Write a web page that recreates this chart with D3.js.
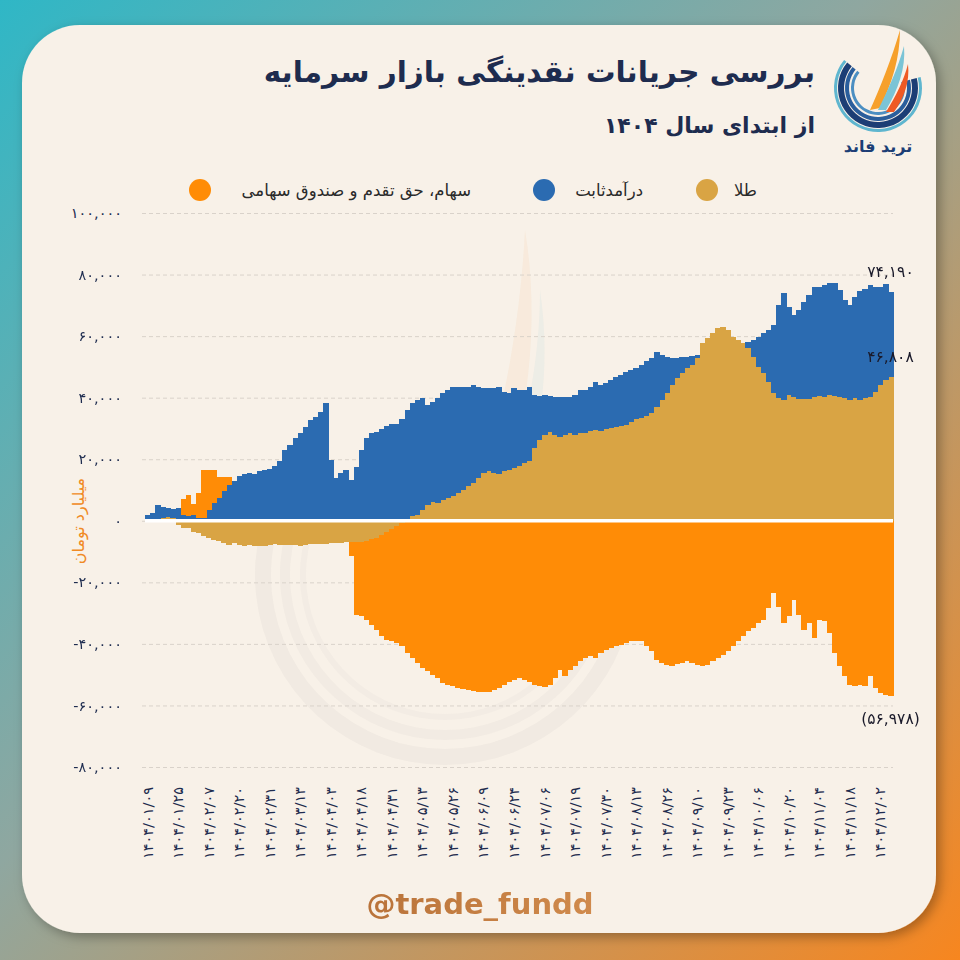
<!DOCTYPE html>
<meta charset="utf-8">
<style>
body { margin: 0; }
text { font-family: "DejaVu Sans", sans-serif; }
</style>
<body>
<script src="https://cdn.jsdelivr.net/npm/d3@7"></script>
<script>

var width = 960,
    height = 960;

// x tick labels, one every `tickEvery` points
var tickLabels = ["1404/01/09", "1404/01/25", "1404/02/07", "1404/02/20", "1404/02/31",
  "1404/03/13", "1404/04/03", "1404/04/18", "1404/04/31", "1404/05/13", "1404/05/26",
  "1404/06/09", "1404/06/24", "1404/07/06", "1404/07/19", "1404/07/30", "1404/08/13",
  "1404/08/26", "1404/09/10", "1404/09/23", "1404/10/06", "1404/10/20", "1404/11/04",
  "1404/11/18", "1404/12/02"];
var tickEvery = 6;

// cumulative flows, billion toman
var gold = [0, 0, 0, 800, 1200, 800, -1500,
  -2400, -2400, -3500, -4000, -5000, -5600, -6200, -6700, -7300, -7800,
  -7300, -7800, -8100, -7800, -8100, -8100, -8100, -8000, -7500, -7800,
  -7800, -7800, -8000, -8100, -7800, -7600, -7500, -7500, -7400, -7300,
  -7250, -7250, -7000, -7000, -7000, -7000, -6500, -6000, -5600, -4600,
  -3500, -2600, -1600, -800,
  500, 1410, 1950, 3500, 5200, 6000, 5730, 6820, 7360, 7900,
  8980, 10060, 11150, 12230, 13850, 15480, 16020, 15480, 15260, 16020,
  16560, 17100, 17640, 18720, 19260, 23500, 26300, 27920, 29000, 27920,
  27380, 27920, 28460, 27920, 28460, 28680, 29330, 29550, 29330, 29760,
  30090, 30630, 30900, 31170, 32250, 33010, 33500, 34000, 35000, 37120,
  39290, 41450, 44160, 46320, 47940, 49570, 50650, 52810, 57680, 59310,
  60930, 62550, 63100, 62010, 59850, 58770, 57680, 56060, 53350, 50110,
  47940, 45240, 41450, 39830, 39290, 40910, 40370, 39500, 39500, 39500,
  40150, 40580, 40370, 40910, 40580, 40370, 39830, 39290, 39830, 39290,
  39830, 40370, 41990, 44160, 45780, 46808];

var fixedIncome = [1950, 2500, 5000, 3600, 3000, 3000, 4000,
  1950, 1410, 1950, 870, 870, 3570, 5730, 7360, 9520, 11690,
  12770, 14390, 15260, 15480, 15260, 16020, 16560, 16880, 17640, 19260,
  23050, 24670, 26830, 28460, 30620, 32790, 33870, 35490, 38420, 19800,
  13850, 15480, 16560, 13300, 17500, 23050, 26830, 28460, 29000, 29760,
  30840, 31380, 31600, 33000,
  35540, 36790, 37340, 36330, 32460, 32740, 34100, 34630, 35170, 35500,
  34630, 33550, 32250, 31930, 29550, 27590, 27050, 27590, 28350, 25970,
  24890, 25970, 24890, 23810, 24350, 17410, 14280, 12990, 11580, 12450,
  12990, 12450, 11910, 12990, 14070, 13850, 14280, 15680, 14830, 14940,
  15690, 16170, 16500, 17320, 16780, 16560, 17150, 18000, 18000, 17860,
  14610, 11900, 8650, 6490, 5410, 3780, 2920, 1090, 0, 0,
  0, 0, 0, 0, 0, 0, 0, 2170, 5420, 9740,
  12990, 16770, 22190, 30170, 34630, 28590, 26510, 29000, 31700, 34000,
  35650, 35500, 36250, 36490, 36580, 34630, 31920, 30840, 33010, 35410,
  35370, 36250, 33810, 31920, 31120, 27382];

var equity = [0, 0, 0, 0, 0, 0, 0,
  5050, 7090, 3550, 8130, 15630, 12930, 10770, 6940, 4780, 2610,
  0, 0, 0, 0, 0, 0, 0, 0, 0, 0,
  0, 0, 0, 0, 0, 0, 0, 0, 0, 0,
  0, 0, 0, -4600, -23520, -24060, -25640, -27770, -29790, -32950,
  -35140, -36580, -38120, -40000,
  -42960, -44590, -46210, -47840, -48920, -50000, -51080, -52710, -53250, -53790,
  -54330, -54600, -54870, -55410, -55600, -55740, -55740, -55090, -54330, -53250,
  -52490, -51840, -51080, -51840, -52490, -53250, -53790, -54000, -53250, -51080,
  -48380, -50540, -48380, -47300, -45670, -44590, -44050, -44590, -42960, -41880,
  -41340, -40800, -40260, -39720, -39180, -39180, -39180, -40800, -42400, -45130,
  -46210, -46750, -47080, -46430, -46210, -45670, -46210, -46750, -47300, -46750,
  -45670, -44590, -43510, -42420, -40800, -39180, -37550, -35930, -34850, -33220,
  -32140, -28500, -23480, -28000, -33220, -31000, -25650, -30500, -35390, -33220,
  -38100, -32140, -32680, -36470, -42960, -47300, -50540, -53250, -53790, -53250,
  -53790, -50540, -54330, -55950, -56490, -56978];

var keys = ["gold", "fixedIncome", "equity"];
var names = { gold: "طلا", fixedIncome: "درآمدثابت", equity: "سهام، حق تقدم و صندوق سهامی" };
var colors = { gold: "#D9A444", fixedIncome: "#2B6BB1", equity: "#FF8C06" };
var yTicks = d3.range(-80000, 100001, 20000);

var fa = function(s) {
  return String(s).replace("−", "-")
    .replace(/[0-9]/g, function(d) { return "۰۱۲۳۴۵۶۷۸۹"[+d]; });
};
var fmt = d3.format(",");

var svg = d3.select("body").append("svg")
    .attr("width", width)
    .attr("height", height);

var defs = svg.append("defs");
var bg = defs.append("linearGradient").attr("id", "bg")
    .attr("x1", 0).attr("y1", 0).attr("x2", 1).attr("y2", 1);
bg.append("stop").attr("offset", "0%").attr("stop-color", "#2FB7C6");
bg.append("stop").attr("offset", "45%").attr("stop-color", "#8FA7A0");
bg.append("stop").attr("offset", "100%").attr("stop-color", "#F7861F");

var sh = defs.append("filter").attr("id", "shadow")
    .attr("x", "-5%").attr("y", "-5%").attr("width", "110%").attr("height", "110%");
sh.append("feDropShadow").attr("dx", 4).attr("dy", 4).attr("stdDeviation", 6)
    .attr("flood-color", "#000").attr("flood-opacity", 0.3);

var wm = defs.append("linearGradient").attr("id", "wm")
    .attr("x1", 0).attr("y1", 0).attr("x2", 1).attr("y2", 0);
wm.append("stop").attr("offset", "0%").attr("stop-color", "#B9733A");
wm.append("stop").attr("offset", "100%").attr("stop-color", "#D08A4C");

svg.append("rect")
    .attr("width", width).attr("height", height)
    .attr("fill", "url(#bg)");

svg.append("rect")
    .attr("x", 22).attr("y", 25)
    .attr("width", 914).attr("height", 908)
    .attr("rx", 58)
    .attr("fill", "#F8F1E8")
    .attr("filter", "url(#shadow)");

// faint background logo
var faint = svg.append("g").attr("opacity", 0.06);
[[190, 16, "#8a8a8a"], [165, 10, "#9a9a9a"], [145, 6, "#aaaaaa"]].forEach(function(a) {
  faint.append("path")
      .attr("transform", "translate(445,575)")
      .attr("d", d3.arc()({ innerRadius: a[0] - a[1], outerRadius: a[0], startAngle: Math.PI * 0.3, endAngle: Math.PI * 1.7 }))
      .attr("fill", a[2]);
});
faint.append("path")
    .attr("d", "M470,520 C500,430 520,330 525,230 C540,320 530,430 490,520 Z")
    .attr("fill", "#F08A24");
faint.append("path")
    .attr("d", "M495,520 C525,440 540,360 540,290 C552,370 540,450 510,520 Z")
    .attr("fill", "#4FB3C8");

// title
svg.append("text")
    .attr("x", 815).attr("y", 82)
    .attr("text-anchor", "end")
    .attr("font-size", 29.5).attr("font-weight", "bold")
    .attr("fill", "#1E2C4F")
    .text("بررسی جریانات نقدینگی بازار سرمایه");

svg.append("text")
    .attr("x", 815).attr("y", 133)
    .attr("text-anchor", "end")
    .attr("font-size", 22).attr("font-weight", "bold")
    .attr("fill", "#1E2C4F")
    .text("از ابتدای سال " + fa("1404"));

// logo
var logo = svg.append("g").attr("transform", "translate(878,88)");
[[44, 3, "#5FB6CF"], [40, 6, "#1C3E75"], [33, 4, "#2A5E9C"], [27, 3, "#4C8FC2"]].forEach(function(a) {
  logo.append("path")
      .attr("d", d3.arc()({ innerRadius: a[0] - a[1], outerRadius: a[0], startAngle: Math.PI * 0.42, endAngle: Math.PI * 1.72 }))
      .attr("fill", a[2]);
});
logo.append("path").attr("d", "M-8,22 C2,0 14,-30 22,-58 C22,-30 14,-5 2,20 Z").attr("fill", "#F6A02B");
logo.append("path").attr("d", "M0,22 C10,2 20,-20 26,-42 C28,-20 20,2 8,22 Z").attr("fill", "#7BC4D6");
logo.append("path").attr("d", "M8,24 C18,8 26,-8 30,-24 C32,-6 26,10 16,24 Z").attr("fill", "#EF5A24");
svg.append("text")
    .attr("x", 878).attr("y", 152)
    .attr("text-anchor", "middle")
    .attr("font-size", 16).attr("font-weight", "bold")
    .attr("fill", "#1C3E75")
    .text("ترید فاند");

// legend
var legendItems = [
  { key: "gold", cx: 707, tx: 757 },
  { key: "fixedIncome", cx: 544, tx: 643 },
  { key: "equity", cx: 200, tx: 471 }
];
var legend = svg.append("g");
legend.selectAll("circle")
    .data(legendItems)
  .enter().append("circle")
    .attr("cx", function(d) { return d.cx; })
    .attr("cy", 190)
    .attr("r", 11)
    .attr("fill", function(d) { return colors[d.key]; });
legend.selectAll("text")
    .data(legendItems)
  .enter().append("text")
    .attr("x", function(d) { return d.tx; })
    .attr("y", 196)
    .attr("text-anchor", "end")
    .attr("font-size", 16.5)
    .attr("fill", "#2A2A2A")
    .text(function(d) { return names[d.key]; });

// scales
var rows = gold.map(function(g, i) {
  return { i: i, gold: g, fixedIncome: fixedIncome[i], equity: equity[i] };
});
var n = rows.length;

var x = d3.scaleBand()
    .domain(d3.range(n))
    .range([145, 893])
    .padding(0);

var y = d3.scaleLinear()
    .domain([-80000, 100000])
    .range([767, 213]);

// y axis + grid
var yAxis = svg.append("g")
    .attr("transform", "translate(145,0)")
    .call(d3.axisLeft(y)
      .tickValues(yTicks)
      .tickSize(-(893 - 145))
      .tickPadding(23)
      .tickFormat(function(d) { return fa(fmt(d)); }));
yAxis.select(".domain").remove();
yAxis.selectAll("line")
    .attr("stroke", "#D9D2CA")
    .attr("stroke-dasharray", "4,3")
    .attr("stroke-width", 1)
    .attr("x1", -3);
yAxis.selectAll("text")
    .attr("font-size", 14.5)
    .attr("font-family", "DejaVu Sans")
    .attr("fill", "#1E2C4F");

svg.append("text")
    .attr("transform", "translate(84,521) rotate(-90)")
    .attr("text-anchor", "middle")
    .attr("font-size", 16)
    .attr("fill", "#F08A24")
    .text("میلیارد تومان");

// stacked bars
var layers = d3.stack()
    .keys(keys)
    .offset(d3.stackOffsetDiverging)(rows);

svg.append("g")
    .attr("shape-rendering", "crispEdges")
  .selectAll("g")
    .data(layers)
  .enter().append("g")
    .attr("fill", function(d) { return colors[d.key]; })
  .selectAll("rect")
    .data(function(d) { return d; })
  .enter().append("rect")
    .attr("x", function(d) { return x(d.data.i); })
    .attr("width", x.bandwidth() + 0.6)
    .attr("y", function(d) { return y(Math.max(d[0], d[1])); })
    .attr("height", function(d) { return Math.abs(y(d[0]) - y(d[1])); });

// zero line
svg.append("line")
    .attr("x1", 145).attr("x2", 893)
    .attr("y1", y(0)).attr("y2", y(0))
    .attr("stroke", "#FFFFFF")
    .attr("stroke-width", 3.5);

// x axis
var xAxis = svg.append("g")
    .attr("transform", "translate(0,775)")
    .call(d3.axisBottom(x)
      .tickValues(d3.range(0, n, tickEvery).filter(function(i) { return i / tickEvery < tickLabels.length; }))
      .tickSize(0)
      .tickFormat(function(i) { return fa(tickLabels[i / tickEvery]); }));
xAxis.select(".domain").remove();
xAxis.selectAll("text")
    .attr("transform", "rotate(-90)")
    .attr("text-anchor", "end")
    .attr("x", -12)
    .attr("y", 0)
    .attr("dy", "0.35em")
    .attr("font-size", 14.5)
    .attr("font-family", "DejaVu Sans")
    .attr("fill", "#1E2C4F");

// end-value labels
var last = n - 1;
var topTotal = d3.max(layers, function(l) { return l[last][1]; });
var cx = x(last) + x.bandwidth() / 2;
var endLabels = [
  { v: topTotal, text: fa(fmt(Math.round(topTotal))), dy: -15 },
  { v: gold[last], text: fa(fmt(gold[last])), dy: -15 },
  { v: equity[last], text: "(" + fa(fmt(Math.abs(equity[last]))) + ")", dy: 28 }
];
svg.selectAll(".endlabel")
    .data(endLabels)
  .enter().append("text")
    .attr("class", "endlabel")
    .attr("x", cx)
    .attr("y", function(d) { return y(d.v) + d.dy; })
    .attr("text-anchor", "middle")
    .attr("font-size", 15.5)
    .attr("fill", "#1A1A2A")
    .text(function(d) { return d.text; });

// handle
svg.append("text")
    .attr("x", 480).attr("y", 914)
    .attr("text-anchor", "middle")
    .attr("font-size", 29).attr("font-weight", "bold")
    .attr("fill", "url(#wm)")
    .text("@trade_fundd");

</script>
